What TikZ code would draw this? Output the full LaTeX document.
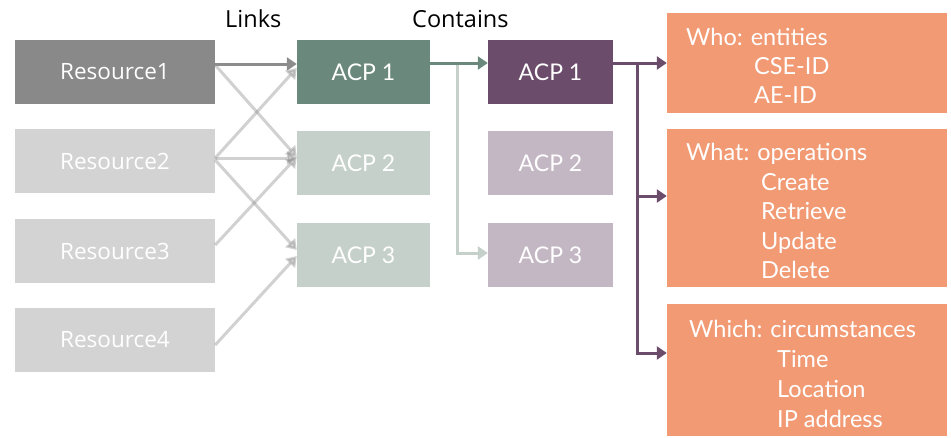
\documentclass[tikz,border=0pt]{standalone}
\usepackage{fontspec}
\newfontfamily\labelfont{Open Sans}
\newfontfamily\boxfont{Lato}
\usetikzlibrary{arrows.meta}

\definecolor{resdark}{HTML}{898989}
\definecolor{reslight}{HTML}{D3D3D3}
\definecolor{acpgreen}{HTML}{6B887C}
\definecolor{acpgreenlight}{HTML}{C5D0CB}
\definecolor{acppurple}{HTML}{6B4C6B}
\definecolor{acppurplelight}{HTML}{C4B7C4}
\definecolor{rulebox}{HTML}{F19A74}
\definecolor{linkgray}{HTML}{8C8C8C}

\tikzset{
  block/.style={draw=none, inner sep=0pt, text=white},
  resbox/.style={block, minimum width=200pt, minimum height=64pt, font=\labelfont\fontsize{22.5}{26}\selectfont},
  acpbox/.style={block, minimum width=133pt, minimum height=64pt, font=\boxfont\fontsize{23}{27}\selectfont},
  pacpbox/.style={block, minimum width=125pt, minimum height=64pt, font=\boxfont\fontsize{23}{27}\selectfont},
  rulerect/.style={block, fill=rulebox, minimum width=280pt},
  ruletext/.style={inner sep=0pt, anchor=base west, text=white, font=\boxfont\fontsize{23.5}{27}\selectfont},
  caption/.style={inner sep=0pt, anchor=base west, font=\labelfont\fontsize{23.5}{27}\selectfont},
  conn/.style={-{Triangle[length=10pt,width=13pt]}, line width=3pt},
  lightlink/.style={conn, draw=linkgray, opacity=0.4},
}

\begin{document}
\begin{tikzpicture}[x=1pt, y=-1pt]
  \useasboundingbox[fill=white] (0,0) rectangle (951,437);

  % resources
  \node[resbox, fill=resdark]  (r1) at (115,72)  {Resource1};
  \node[resbox, fill=reslight] (r2) at (115,161) {Resource2};
  \node[resbox, fill=reslight] (r3) at (115,251) {Resource3};
  \node[resbox, fill=reslight] (r4) at (115,340) {Resource4};

  % linked access control policies
  \node[acpbox, fill=acpgreen]      (a1) at (363.5,72)  {ACP 1};
  \node[acpbox, fill=acpgreenlight] (a2) at (363.5,163) {ACP 2};
  \node[acpbox, fill=acpgreenlight] (a3) at (363.5,255) {ACP 3};

  % contained policies
  \node[pacpbox, fill=acppurple]      (p1) at (550.5,72)  {ACP 1};
  \node[pacpbox, fill=acppurplelight] (p2) at (550.5,163) {ACP 2};
  \node[pacpbox, fill=acppurplelight] (p3) at (550.5,255) {ACP 3};

  % rule boxes
  \node[rulerect, minimum height=100pt] (o1) at (807,63)  {};
  \node[rulerect, minimum height=158pt] (o2) at (807,208) {};
  \node[rulerect, minimum height=132pt] (o3) at (807,370) {};

  \node[ruletext] (who)    at (686,45)  {Who: entities};
  \node[ruletext] (cseid)  at (754,74)  {CSE-ID};
  \node[ruletext] (aeid)   at (754,103) {AE-ID};

  \node[ruletext] (what)   at (686,160) {What: operations};
  \node[ruletext] (create) at (761,190) {Create};
  \node[ruletext] (retr)   at (761,219) {Retrieve};
  \node[ruletext] (upd)    at (761,249) {Update};
  \node[ruletext] (del)    at (761,278) {Delete};

  \node[ruletext] (which)  at (689,337) {Which: circumstances};
  \node[ruletext] (time)   at (777,367) {Time};
  \node[ruletext] (loc)    at (777,397) {Location};
  \node[ruletext] (ip)     at (777,427) {IP address};

  % captions
  \node[caption] (links)    at (225,27) {Links};
  \node[caption] (contains) at (412,27) {Contains};

  % resource-to-policy links
  \draw[lightlink] ([yshift=7pt]r1.east)  -- ([yshift=6pt]a2.west);
  \draw[lightlink] ([yshift=3pt]r2.east)  -- ([yshift=4pt]a1.west);
  \draw[lightlink] ([yshift=3pt]r2.east)  -- ([yshift=5pt]a2.west);
  \draw[lightlink] ([yshift=1pt]r2.east)  -- ([yshift=5pt]a3.west);
  \draw[lightlink] ([yshift=6pt]r3.east)  -- ([yshift=6pt]a2.west);
  \draw[lightlink] ([yshift=-5pt]r4.east) -- ([yshift=-1pt]a3.west);
  \draw[conn, draw=linkgray] ([yshift=8pt]r1.east) -- ([yshift=8pt]a1.west);

  % containment
  \coordinate (gsplit) at (457,63);
  \draw[conn, draw=acpgreenlight] (gsplit) |- ([yshift=2pt]p3.west);
  \draw[conn, draw=acpgreen] ([yshift=9pt]a1.east) -- ([yshift=9pt]p1.west);

  % policy rules
  \coordinate (psplit) at (637,63);
  \draw[conn, draw=acppurple] ([yshift=9pt]p1.east) -- (o1.west);
  \draw[conn, draw=acppurple] (psplit) |- ([yshift=12pt]o2.west);
  \draw[conn, draw=acppurple] (psplit) |- ([yshift=17pt]o3.west);
\end{tikzpicture}
\end{document}
